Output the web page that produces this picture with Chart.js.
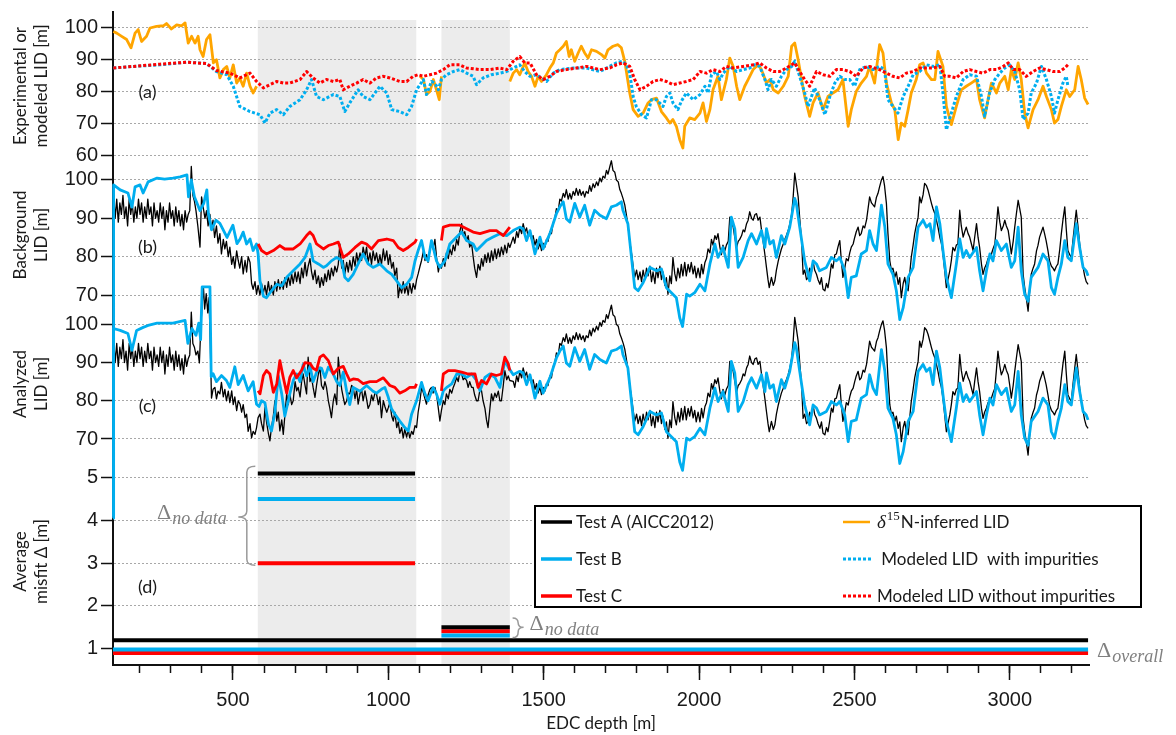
<!DOCTYPE html>
<html><head><meta charset="utf-8">
<script src="https://cdn.jsdelivr.net/npm/chart.js@4.4.1/dist/chart.umd.min.js"></script>
<style>html,body{margin:0;padding:0;background:#fff;}canvas{display:block;}</style>
</head><body>
<canvas id="c" width="1176" height="735"></canvas>
<script>
// ---------- DATA (depth [m], LID [m]) ----------
const d15nLID = [[115,98.8],[126,98.3],[142,97.3],[158,96.3],[172,93.7],[185,98.3],[195,99.4],[206,95.7],[222,97.3],[233,99.9],[254,100.4],[276,100.6],[286,101.3],[302,99.6],[319,100.9],[335,100.6],[346,101.5],[356,95.2],[367,97.3],[378,95.2],[388,97.3],[394,93.1],[404,91],[415,96.3],[426,97.8],[437,89],[447,90],[458,84.3],[469,86.9],[480,87.9],[490,84.3],[501,88.4],[512,82.7],[522,84.3],[533,81.7],[544,85.8],[555,81.7],[565,79.6],[576,81.7],
[800,null],
[1102,84.8],[1113,83.8],[1123,79.1],[1134,80.1],[1145,83.8],[1155,80.6],[1164,77.5],[1171,84.8],
[1280,null],
[1391,83.2],[1402,85.8],[1413,86.9],[1423,85.3],[1439,89],[1450,86.3],[1461,84.8],[1472,81.7],[1482,84.8],[1493,83.2],[1509,85.3],[1520,87.4],[1531,89],[1541,92.1],[1552,93.1],[1563,94.2],[1573,95.7],[1582,91],[1589,93.1],[1600,89.5],[1611,92.1],[1621,94.2],[1632,92.1],[1643,90.5],[1654,93.1],[1670,92.6],[1686,91.6],[1697,90.5],[1707,93.1],[1723,94.2],[1739,94.7],[1750,93.7],[1761,89.5],[1777,79.6],[1788,74.4],[1804,72.3],[1820,73.3],[1836,76.5],[1847,77.5],[1863,78],[1879,73.8],[1895,71.8],[1906,70.2],[1916,71.3],[1927,69.2],[1938,65],[1948,62.4],[1954,69.2],[1970,71.8],[1986,71.3],[2003,73.3],[2013,76.5],[2024,70.7],[2035,74.4],[2045,80.6],[2061,84.8],[2072,77.5],[2088,83.8],[2099,90.5],[2110,87.9],[2121,81.7],[2131,77.5],[2147,81.7],[2158,83.8],[2174,86.9],[2190,88.4],[2201,86.9],[2217,82.7],[2228,83.8],[2239,80.6],[2255,79.6],[2271,81.7],[2287,84.8],[2298,94.2],[2308,95.2],[2319,90],[2330,83.8],[2340,78.5],[2356,72.3],[2367,76.5],[2383,79.6],[2399,74.4],[2415,78.5],[2431,79.6],[2447,80.6],[2463,83.8],[2480,69.2],[2490,74.4],[2506,80.1],[2522,82.7],[2539,84.8],[2549,87.9],[2565,82.7],[2581,94.7],[2592,92.1],[2603,82.7],[2619,76.5],[2630,74.4],[2641,65],[2651,70.2],[2662,69.2],[2673,74.4],[2683,79.6],[2699,83.8],[2710,88.4],[2721,89],[2732,85.8],[2748,83.8],[2759,83.8],[2769,92.6],[2785,87.9],[2796,75.4],[2812,69.7],[2828,75.4],[2844,80.6],[2860,81.7],[2876,82.7],[2893,83.8],[2903,77.5],[2919,71.8],[2930,77.5],[2941,82.7],[2957,79.6],[2968,82.7],[2984,84.8],[2995,80.6],[3005,86.9],[3016,83.8],[3027,89],[3037,83.8],[3048,73.3],[3059,68.7],[3075,74.4],[3091,77.5],[3107,81.7],[3118,78.5],[3134,74.4],[3144,70.2],[3155,71.3],[3166,75.4],[3182,80.6],[3193,78.5],[3209,80.6],[3220,87.9],[3230,83.8],[3241,78],[3252,76]];

const modelWithImp = [[115,87.4],[179,87.9],[265,88.4],[351,89.2],[415,88.8],[447,86.3],[480,85.3],[501,81.7],[522,75.4],[555,73.8],[587,72.8],[603,70.2],[619,73.3],[641,74.4],[662,72.8],[683,75.4],[716,77.5],[737,80.6],[753,83.8],[769,78.5],[791,77.5],[823,79.1],[844,78.5],[860,73.8],[876,76.5],[903,80.6],[919,78.5],[941,77.5],[973,81.7],[995,79.6],[1011,74.4],[1037,73.8],[1059,72.8],[1075,75.4],[1091,80.6],[1113,83.8],[1123,79.1],[1139,83.2],[1150,82.7],[1161,80.6],[1171,83.8],[1187,85.3],[1209,86.3],[1230,86.9],[1252,85.8],[1273,84.8],[1284,82.2],[1305,84.3],[1332,85.3],[1359,85.8],[1381,86.3],[1402,87.4],[1423,88.4],[1439,86.3],[1456,84.8],[1477,85.3],[1509,83.2],[1531,85.8],[1552,86.9],[1595,87.4],[1638,87.4],[1681,86.3],[1702,87.4],[1734,89],[1755,89.5],[1766,88.4],[1777,85.8],[1788,78.5],[1798,75.4],[1815,72.8],[1831,71.8],[1847,77.5],[1863,77.5],[1884,75.4],[1895,78.5],[1906,79.6],[1916,76.5],[1932,74.4],[1943,77],[1959,79.6],[1981,77.5],[2003,79.1],[2019,81.7],[2029,79.6],[2040,85.3],[2056,86.3],[2067,83.8],[2078,85.8],[2099,87.9],[2121,86.3],[2142,86.9],[2163,87.4],[2179,88.4],[2195,87.9],[2212,83.8],[2222,80.6],[2233,83.8],[2249,81.7],[2265,84.8],[2281,86.9],[2298,87.9],[2308,89.5],[2324,84.8],[2340,79.6],[2351,75.4],[2362,78.5],[2372,81.2],[2388,77.5],[2405,72.8],[2421,78.5],[2437,82.7],[2453,84.8],[2469,83.8],[2485,83.8],[2501,81.7],[2517,86.9],[2539,87.9],[2560,86.9],[2581,87.9],[2597,86.9],[2608,77.5],[2624,75.4],[2640,73.3],[2657,78.5],[2673,81.7],[2689,85.3],[2710,86.3],[2732,88.4],[2753,87.9],[2775,88.4],[2785,79.6],[2796,68.1],[2812,73.3],[2828,78.5],[2850,83.8],[2871,85.3],[2893,84.8],[2909,78.5],[2919,72.3],[2935,79.6],[2952,83.8],[2968,85.8],[2984,87.4],[3000,88.4],[3016,86.3],[3032,80.6],[3043,71.3],[3059,73.3],[3069,79.6],[3086,82.7],[3102,87.9],[3118,83.8],[3134,78.5],[3144,73.3],[3155,77.5],[3171,82.7],[3182,84.8],[3187,81.7]];

const modelNoImp = [[115,87.4],[179,87.9],[265,88.6],[351,89.2],[415,88.8],[447,86.6],[490,85.8],[522,84.3],[555,85.8],[576,83.2],[598,81.2],[619,82.2],[641,83.2],[662,82.7],[683,82.7],[716,83.8],[737,86.3],[758,84.3],[780,82.7],[801,83.8],[823,83.2],[844,83.8],[855,80.6],[876,81.7],[898,82.7],[919,83.8],[941,82.7],[962,84.3],[984,84.8],[1005,84.3],[1037,83.2],[1059,83.2],[1080,84.8],[1096,85.3],[1113,84.8],[1134,85.3],[1155,85.8],[1177,86.9],[1198,88.4],[1230,88.4],[1252,87.4],[1295,86.9],[1327,86.9],[1359,87.4],[1381,86.9],[1402,89.5],[1423,91],[1439,89],[1456,89],[1477,85.3],[1498,83.8],[1520,84.8],[1541,86.3],[1573,86.9],[1605,87.4],[1638,87.9],[1681,86.9],[1713,87.4],[1734,88.4],[1755,89],[1777,87.9],[1793,83.8],[1810,80.6],[1831,81.7],[1852,83.2],[1874,83.8],[1895,83.2],[1916,82.2],[1938,82.7],[1959,83.2],[1981,83.8],[2003,86.3],[2024,85.8],[2045,86.9],[2067,86.3],[2088,87.9],[2110,87.4],[2142,87.9],[2174,88.4],[2195,89],[2217,87.4],[2239,86.3],[2260,86.3],[2281,87.4],[2308,89],[2324,86.3],[2340,83.8],[2356,81.7],[2378,86.3],[2399,85.3],[2421,84.8],[2442,86.9],[2463,86.9],[2485,86.3],[2506,84.8],[2528,87.4],[2549,87.9],[2581,86.9],[2603,85.8],[2624,84.8],[2646,84.3],[2667,85.8],[2689,86.3],[2710,87.4],[2732,87.4],[2753,87.4],[2775,87.9],[2791,84.8],[2807,84.8],[2828,84.3],[2850,86.3],[2871,86.9],[2893,86.3],[2914,85.8],[2936,86.9],[2957,86.9],[2979,87.9],[2995,89],[3011,86.9],[3032,86.9],[3053,84.8],[3075,86.3],[3096,87.4],[3118,86.9],[3139,86.3],[3161,86.3],[3177,87.4],[3187,88.4]];

// Test A (AICC2012): shared first part, panel-specific middle, shared tail
const testAEarly = [[114,88],[116,96],[121,90],[126,95],[131,89],[136,94],[141,91],[146,96],[151,90],[156,93],[161,88],[166,95],[171,91],[176,94],[181,89],[186,93],[191,90],[196,95],[201,91],[206,94],[211,89],[216,93],[221,90],[226,95],[231,91],[236,93],[241,88],[246,94],[251,90],[256,92],[261,89],[266,94],[271,90],[276,93],[281,87],[286,92],[291,89],[296,94],[301,90],[306,92],[311,88],[316,93],[321,89],[326,92],[331,88],[336,91],[341,87],[346,92],[351,89],[356,91],[361,92]];

const testABackgroundMid = [[366,103.5],[371,96],[376,94.5],[381,92],[387,88],[394,82.5],[399,95.6],[404,93],[410,90],[415,92],[420,88],[426,91],[431,87],[436,89.5],[441,85],[447,88],[452,83.5],[458,86],[463,80.7],[469,84.5],[474,82],[479,84],[485,80],[490,82.5],[496,78],[501,80],[506,77],[512,81.5],[517,79],[522,77],[528,80],[533,75.5],[539,79],[544,76],[549,80],[555,78.5],[560,73],[565,71.5],[571,73.5],[576,70.2],[581,72.5],[587,70],[592,73],[598,70.5],[603,72.5],[608,70],[614,73.5],[619,70.5],[624,72.5],[630,70],[635,73.5],[641,71],[646,74],[651,71.5],[657,73.5],[662,71.5],[667,74.5],[673,72],[678,75],[684,72.5],[689,75.5],[694,73],[700,76],[705,73.5],[710,76],[716,73],[721,77],[726,74.5],[732,78.5],[737,75],[742,77.5],[748,79.5],[753,76],[758,74],[764,76.5],[769,73],[775,75],[780,72],[785,74.5],[791,72.5],[796,75.5],[801,73.5],[807,76.5],[812,74],[817,77],[823,75],[828,77.5],[834,76],[839,78],[844,83.3],[850,77],[855,79],[860,75.5],[866,78.5],[871,76],[876,79],[882,76.5],[887,80],[893,77.5],[898,81],[903,78.5],[909,81],[914,79],[919,82.5],[925,80],[930,82.5],[935,78.5],[941,81],[946,78],[951,81.5],[957,79],[962,81],[968,78],[973,80.5],[978,78],[984,82],[989,79],[995,81.5],[1000,78],[1005,80.5],[1011,77],[1016,78.5],[1021,75],[1027,77],[1032,69.3],[1037,72],[1043,70.5],[1048,73.5],[1053,70.5],[1059,72.5],[1064,70],[1069,73],[1075,70.5],[1080,73],[1086,71.5],[1091,74],[1096,75.5],[1102,77.5],[1107,79],[1113,81.5],[1118,79],[1123,80.5],[1128,78.5],[1134,82],[1139,84],[1144,82],[1150,84.5],[1155,80],[1161,76],[1166,78],[1171,77],[1177,79.5],[1182,77.5],[1187,81],[1193,79.5],[1198,82],[1204,80.5],[1209,83],[1214,81.5],[1220,84.5],[1225,83],[1230,86.5],[1236,88.6],[1241,85.5],[1246,86.5],[1252,84],[1257,85.5],[1262,82.5],[1268,83.5],[1273,80],[1278,77],[1284,74.6],[1289,78],[1295,76.5],[1300,79.5],[1305,77.5],[1311,80.5],[1316,78.5],[1321,81],[1327,78.5],[1332,81.5],[1337,79],[1343,82],[1348,79.5],[1354,82],[1359,80],[1364,82.5],[1370,80.5],[1375,83],[1381,81],[1386,83.5],[1391,82.4]];

const testAAnalyzedMid = [[366,103.2],[371,95],[376,94],[381,92],[387,93],[392,89.9],[397,100],[402,106.4],[405,109.8],[409,104],[414,108],[419,103],[423,107],[427,95],[431,80.7],[436,83],[442,83.5],[447,80.5],[452,82.5],[458,81.8],[463,84.8],[469,81],[474,83],[479,80],[485,82.5],[490,79.5],[496,82.6],[501,79],[506,81],[512,77.4],[517,80],[523,79.1],[528,77],[533,79],[539,75.6],[544,76.5],[549,72],[555,74],[560,70.3],[565,72],[571,71.2],[576,73],[581,75.6],[587,76.5],[592,74],[598,72.1],[603,78.2],[608,74.5],[614,71.5],[619,69.5],[624,73],[630,76],[635,80],[641,74.7],[646,77],[651,72.1],[657,75],[662,71.2],[667,76],[673,81.8],[678,79],[683,81.8],[689,79],[694,80],[700,85],[705,82.6],[710,83.5],[716,81],[721,85],[726,87],[732,84],[737,81.8],[742,91.4],[748,85],[753,86.1],[758,83.5],[764,80.9],[769,84],[775,87],[780,88.8],[785,84],[791,83],[796,85],[801,83.5],[807,80],[812,78],[817,75.6],[823,80],[828,81.8],[834,79],[839,91.4],[844,87],[850,83],[855,80.9],[860,79],[866,80],[871,82],[876,81.8],[882,84],[887,83.5],[893,80.5],[898,83],[903,79.1],[909,81.8],[914,83],[919,80],[925,82.6],[930,80.5],[935,78],[941,79.1],[946,81.5],[951,80],[957,82],[962,81.8],[968,79],[973,81],[978,75.6],[984,80],[989,78.5],[995,77],[1000,78.2],[1005,79.5],[1011,76],[1016,74.7],[1021,77],[1027,73],[1032,74.5],[1037,71.5],[1043,73],[1048,70.3],[1053,72.5],[1059,70.5],[1064,72.5],[1069,70.3],[1075,72],[1080,71.2],[1086,73.5],[1091,73],[1096,77],[1102,80],[1107,83.5],[1113,82],[1118,80.5],[1123,79.1],[1128,81.5],[1134,83],[1139,83.5],[1144,82],[1150,83.5],[1155,81.8],[1161,78],[1166,74.7],[1171,77.5],[1177,80],[1182,79],[1187,81.8],[1193,80.5],[1198,83],[1204,82],[1209,83.5],[1214,84.5],[1220,86.1],[1225,85],[1230,87.5],[1236,87],[1241,85.5],[1246,86],[1252,85.3],[1257,83.5],[1262,85],[1268,83.5],[1273,83.5],[1278,81.5],[1284,80],[1289,80],[1295,83],[1300,82.6],[1305,80],[1311,78],[1316,75],[1321,73],[1327,78],[1332,81.8],[1337,80],[1343,82],[1348,80.9],[1354,82.5],[1359,80],[1364,80],[1370,84],[1375,87.9],[1381,85.5],[1386,86.5],[1391,85.3]];

const testATail = [[1402,85.1],[1407,83.5],[1413,86.5],[1418,85],[1423,87.5],[1429,86],[1434,88.6],[1440,86.5],[1445,87.5],[1450,85],[1456,86],[1461,84.5],[1466,85.5],[1472,83],[1477,84.5],[1482,82],[1488,83.5],[1493,81.6],[1498,83.5],[1504,82.5],[1509,84.5],[1514,84],[1520,86.5],[1525,86],[1531,89],[1536,90],[1541,92.5],[1547,92],[1552,95],[1557,94.5],[1563,96.5],[1568,95.5],[1573,97.5],[1579,95],[1584,96.5],[1589,95],[1595,97],[1600,96],[1605,97.8],[1611,96],[1616,97.5],[1621,96],[1627,97],[1632,95.5],[1637,97],[1643,96.5],[1648,98.5],[1653,97],[1659,99],[1664,98],[1670,99.5],[1675,98.5],[1681,100.5],[1686,99.5],[1691,101],[1697,100.5],[1702,102.5],[1707,101.5],[1713,103.5],[1718,105],[1723,102.5],[1729,102],[1734,100],[1740,99.5],[1745,97.5],[1750,96.5],[1756,95],[1761,93.5],[1766,91],[1772,87.7],[1777,84],[1783,80.7],[1788,77.5],[1793,74.6],[1799,76.5],[1804,74],[1810,76],[1815,73.5],[1820,76.5],[1826,74],[1831,77],[1836,75],[1842,77.5],[1847,73.5],[1852,76],[1858,73],[1863,77],[1868,74.5],[1874,77.5],[1879,74],[1884,76],[1890,72.5],[1895,74.5],[1900,70.2],[1906,75],[1911,73],[1916,79.8],[1922,75.5],[1927,73.7],[1932,77],[1938,74.5],[1943,78],[1948,75],[1954,78.5],[1959,75],[1965,78],[1970,76],[1975,78.5],[1981,75.5],[1986,77.5],[1991,74.5],[1997,77],[2003,74.5],[2008,78],[2013,75.5],[2019,78.5],[2024,79.5],[2029,82],[2035,81],[2040,84.5],[2045,83],[2051,85.5],[2056,84.5],[2061,86],[2067,82.5],[2072,80.5],[2077,83],[2083,81.5],[2088,83],[2094,84],[2099,90.3],[2104,89],[2110,87.7],[2115,85],[2121,82.4],[2126,84],[2131,84.5],[2137,85.5],[2142,87],[2147,86.5],[2153,88.6],[2158,89.5],[2163,91.7],[2169,90],[2174,89.5],[2180,91],[2185,91.2],[2190,89.5],[2196,90.3],[2201,87],[2206,84.2],[2212,80.5],[2217,77.2],[2222,74],[2226,71.9],[2233,74.6],[2239,72.5],[2244,73.7],[2249,76.5],[2255,78.9],[2260,80.5],[2265,82],[2271,83.3],[2276,84.5],[2281,85.5],[2287,86.8],[2292,88.5],[2298,91],[2303,95.6],[2308,101.8],[2313,99],[2319,95.6],[2324,90],[2330,84.2],[2335,75.4],[2340,76.5],[2346,74],[2351,74.6],[2356,77],[2362,76],[2367,78.9],[2372,76.5],[2378,75.4],[2383,74],[2389,72.8],[2394,74.5],[2399,71.5],[2405,71.1],[2410,73],[2415,71.9],[2421,75],[2426,78.1],[2431,77],[2437,80.5],[2442,80.7],[2447,82.5],[2453,84.2],[2458,79],[2463,74.6],[2469,77],[2474,79.5],[2480,78.9],[2485,81],[2490,82.5],[2496,83.3],[2501,85],[2506,86.5],[2512,87.7],[2517,85.5],[2522,86],[2528,88],[2533,87.5],[2539,89.5],[2544,92.5],[2549,95.6],[2555,94],[2560,93.5],[2565,93],[2571,95.5],[2576,96.5],[2581,98.2],[2587,100],[2592,100.9],[2597,98.5],[2603,93.9],[2608,86],[2614,78.9],[2619,76.5],[2624,77],[2630,74.6],[2635,76],[2641,72.8],[2646,74.5],[2651,69.3],[2657,73],[2662,74.6],[2667,72],[2673,71.1],[2678,75.5],[2683,79.8],[2689,83],[2694,86],[2699,88],[2705,90.3],[2710,95.6],[2715,94],[2721,96.1],[2726,99.1],[2732,98.5],[2737,97.4],[2743,95.5],[2748,93.9],[2753,92.5],[2759,91.2],[2764,89.5],[2769,87.7],[2775,85],[2780,83.5],[2785,80.7],[2791,76],[2796,71.9],[2801,74],[2807,76.3],[2812,79],[2817,82.4],[2823,81.5],[2828,83],[2833,83.3],[2839,92.1],[2844,88],[2850,85.1],[2855,86.5],[2860,87.7],[2866,86],[2871,85.1],[2876,83.5],[2882,81.6],[2887,85],[2893,88.6],[2898,85],[2903,82.4],[2909,78],[2914,75.4],[2919,77],[2925,78.1],[2930,79.5],[2936,80],[2941,80.7],[2946,82],[2952,83.3],[2957,88],[2962,93],[2968,89],[2973,86.8],[2979,88],[2984,89.5],[2989,88],[2995,86.8],[3000,84],[3005,80.7],[3011,84],[3016,87.7],[3021,91],[3027,94.7],[3032,92.5],[3037,90.3],[3043,75.4],[3048,72],[3053,69.3],[3059,65.8],[3064,71],[3069,75.4],[3075,77],[3080,78.1],[3086,81.5],[3091,83],[3096,85.1],[3102,86.5],[3107,87.7],[3112,86],[3117,84.2],[3123,81.5],[3128,78.9],[3134,77.5],[3139,77],[3144,76.3],[3150,77.5],[3155,78.1],[3161,82],[3166,86],[3171,89.5],[3177,93],[3182,87],[3187,81.6],[3193,80.5],[3198,79.8],[3203,84],[3209,88.5],[3214,92.1],[3220,87.5],[3225,83.3],[3230,80],[3236,77.2],[3241,75],[3246,73.5],[3252,72.8]];

// Test B
const testBBackgroundHead = [[114,11.8],[116,98.7],[137,97.4],[162,96.6],[175,92.9],[185,98.2],[201,98.7],[211,96.6],[227,99.5],[256,100.5],[280,100.2],[307,100.5],[330,100.8],[352,101.3],[357,95.6],[366,100],[376,95.6],[394,92],[406,93.9],[416,97.4],[421,91.3],[431,87],[445,89.5],[458,88.7],[481,85],[500,88.2],[513,83.4],[523,84.6],[533,86.4],[544,83.3],[555,84.6],[565,81.6],[576,83.3],[581,80.7],[587,73.7],[598,69.7],[608,69.3],[624,71.1],[641,72.8],[657,72.4],[673,74.6],[694,76.3],[716,78.1],[732,79.8],[748,83.3],[758,78.9],[775,78.1],[791,77.2],[801,77.6],[817,78.9],[834,79.8],[850,78.9],[860,74.6],[871,73.7],[887,75.4],[903,78.1],[919,80.7],[935,78.1],[951,77.2],[973,78.1],[995,76.3],[1011,75.4],[1027,73.7],[1043,71.9],[1059,72.8],[1075,74.6],[1086,78.9],[1096,81.6],[1107,84.2],[1118,79.8],[1128,78.9],[1139,84.2],[1155,78.9],[1166,77.2],[1182,78.9],[1198,83.3],[1220,85.1],[1236,86.4],[1252,84.2],[1273,83.3],[1284,81.6],[1316,84.2],[1337,85.1],[1359,86],[1381,85.5]];

const testBAnalyzedHead = [[114,49.7],[116,98.9],[137,98.4],[162,97.6],[175,93.2],[190,98.4],[211,99.2],[227,99.7],[256,100.3],[307,100.3],[346,101],[355,95],[368,98.9],[381,97.1],[390,100.3],[396,96],[401,109.8],[426,109.8],[430,86.3],[436,87.1],[447,85],[463,86.6],[479,85.3],[490,83.5],[506,88.9],[517,84.2],[533,86.6],[549,82.6],[565,85],[576,79.1],[584,78.5],[592,80],[603,79.5],[614,74],[624,72.1],[635,77],[646,86.5],[657,81.8],[667,76],[683,81.8],[694,85.3],[705,87],[716,85],[726,89.5],[737,86.5],[748,89],[758,85],[774,88.5],[785,88.5],[796,86.1],[807,88.8],[823,87],[834,85],[844,84],[855,87.5],[866,82.5],[876,79],[887,83.5],[909,82.5],[930,84],[951,82.5],[962,82],[978,83],[989,83.5],[1000,80.9],[1010,78],[1021,76.5],[1037,74.7],[1053,73],[1064,72.1],[1075,76.5],[1091,80],[1107,84.8],[1118,81.8],[1128,80],[1144,83.5],[1155,81.8],[1166,79.1],[1177,82.6],[1188,83.5],[1204,84.4],[1220,87],[1236,87],[1252,86.1],[1268,87],[1284,85.3],[1295,82.6],[1311,86.1],[1327,87],[1343,86.1],[1359,83.5],[1375,90.5],[1386,88.8]];

const testBTail = [[1402,86.8],[1423,87.7],[1434,87.3],[1445,84.2],[1456,86.8],[1472,80.7],[1488,85.1],[1498,82],[1520,86],[1541,91.2],[1552,93],[1563,94.3],[1573,89.9],[1584,89],[1600,93.9],[1616,90.3],[1632,93.4],[1648,88.2],[1664,92.1],[1681,90.8],[1702,89.9],[1718,93],[1734,93.4],[1750,94.3],[1755,92.1],[1771,88.6],[1793,71.9],[1804,71.1],[1820,73.2],[1842,77.2],[1863,76.3],[1879,76.8],[1895,71.9],[1911,70.6],[1927,69.3],[1938,64],[1947,61.8],[1960,70.2],[1970,69.7],[1986,70.6],[2003,72.8],[2019,71.1],[2035,78.1],[2051,83.3],[2061,79.8],[2077,82.4],[2094,77.2],[2104,90.3],[2115,87.3],[2126,77.2],[2142,79.8],[2158,84.2],[2169,86],[2185,83.3],[2201,86.8],[2212,82.4],[2217,87.3],[2228,83.3],[2239,84.2],[2249,79.8],[2265,85.5],[2276,83.3],[2292,87.7],[2308,95.2],[2313,93.9],[2324,87.7],[2340,78.9],[2356,73.7],[2367,78.9],[2378,78.1],[2388,76.3],[2410,77.2],[2426,79.8],[2442,78.9],[2453,79.8],[2469,76.3],[2480,69.3],[2490,74.6],[2506,75],[2522,80.7],[2539,81.6],[2549,86.8],[2560,83.3],[2571,81.6],[2587,93.4],[2598,87.7],[2608,78.1],[2624,75.4],[2635,71.1],[2646,63.6],[2657,66.7],[2673,74.6],[2689,77.2],[2705,87.7],[2721,89.5],[2732,87.7],[2743,88.6],[2753,84.2],[2764,93],[2775,88.6],[2785,81.6],[2796,74.6],[2812,69.3],[2828,78.1],[2839,84.6],[2850,79.8],[2860,81.6],[2871,79.8],[2893,82.4],[2903,76.3],[2914,71.1],[2925,76.3],[2936,80.7],[2946,78.9],[2957,84.2],[2973,81.6],[2989,83.3],[3005,77.2],[3016,78.9],[3027,87.7],[3037,76.3],[3048,70.2],[3059,68.4],[3069,74.6],[3091,77.2],[3107,80.7],[3123,78.9],[3134,71.9],[3144,70.2],[3155,74.6],[3166,78.1],[3177,84.2],[3187,79.8],[3198,78.9],[3214,88.6],[3225,82.4],[3236,77.2],[3246,76.3],[3252,75]];

// Test C (only in the no-data intervals)
const testCBackground = [[581,83.3],[592,81.6],[608,80.7],[630,81.6],[651,82.9],[667,82],[694,82],[716,83.3],[737,85.5],[748,86.4],[758,85.5],[769,83.3],[791,82],[807,82.9],[823,83.3],[839,83.8],[855,79.8],[871,80.7],[893,82.4],[914,83.8],[930,83.3],[946,82],[968,84.2],[995,84.6],[1016,84.2],[1032,82.4],[1048,81.6],[1064,82.4],[1086,83.8],[1091,84.6],[1130,null],[1171,84.2],[1177,87.7],[1198,88.2],[1230,88.2],[1252,87.3],[1273,86.4],[1295,86],[1327,86.8],[1348,86.8],[1370,85.5],[1391,87.7]];

const testCAnalyzed = [[581,82.6],[587,81.8],[598,86.6],[608,87.9],[619,87],[630,82.2],[641,84.4],[651,90.5],[662,86.1],[673,82],[683,86.1],[694,87.9],[705,86],[721,88],[732,90],[748,89.8],[758,88.5],[769,88],[780,91.4],[791,92],[807,90.5],[823,87],[839,88.5],[855,89],[866,87],[876,85.3],[887,85.7],[903,85.5],[919,84.5],[941,85],[962,85],[984,86],[1005,84],[1021,83.5],[1037,82],[1053,82.6],[1069,83.5],[1086,83.5],[1091,84.4],[1130,null],[1171,82.6],[1177,87],[1193,87.9],[1214,87.9],[1236,87.5],[1257,87],[1279,87],[1289,83.5],[1300,85.3],[1316,84.4],[1332,87],[1348,86.6],[1364,87],[1375,91.4],[1386,89.7],[1391,87.9]];

// Panel (d): average misfit for tests A, B, C
const misfitOverall = [1.2, 0.98, 0.9];
const misfitNoData1 = [5.1, 4.5, 3.0];
const misfitNoData2 = [1.5, 1.31, 1.41];
const overallDepths = [114, 3252];
const noData1Depths = [580, 1086];
const noData2Depths = [1171, 1391];
const noDataBands = [[580, 1090], [1171, 1391]];
const depthRange = [114, 3255];
const depthLabelStep = 500;
const depthMinorStep = 100;

// ---------- CHART ----------
const COL = {A: '#000000', B: '#00AEEF', C: '#FF0000', N: '#FFA500'};
const P = arr => arr.map(p => ({x: p[0], y: p[1]}));
const datasets = [];
function addLine(data, yAxisID, color, width, dash, order) {
  datasets.push({data: P(data), xAxisID: 'x', yAxisID, borderColor: color, backgroundColor: color,
    borderWidth: width, borderDash: dash || [], pointRadius: 0, fill: false, tension: 0,
    spanGaps: false, order, clip: false, borderJoinStyle: 'round'});
}
// (a)
addLine(d15nLID, 'ya', COL.N, 2.8, null, 3);
addLine(modelWithImp, 'ya', COL.B, 3, [3, 2], 2);
addLine(modelNoImp, 'ya', COL.C, 3, [3, 2], 1);
// (b)
addLine(testAEarly.concat(testABackgroundMid, testATail), 'yb', COL.A, 1.3, null, 3);
addLine(testBBackgroundHead.concat(testBTail), 'yb', COL.B, 2.8, null, 2);
addLine(testCBackground, 'yb', COL.C, 2.8, null, 1);
// (c)
addLine(testAEarly.concat(testAAnalyzedMid, testATail), 'yc', COL.A, 1.3, null, 3);
addLine(testBAnalyzedHead.concat(testBTail), 'yc', COL.B, 2.8, null, 2);
addLine(testCAnalyzed, 'yc', COL.C, 2.8, null, 1);
// (d)
const dCols = [COL.A, COL.B, COL.C];
for (let i = 0; i < 3; i++) {
  addLine([[overallDepths[0], misfitOverall[i]], [overallDepths[1], misfitOverall[i]]], 'yd', dCols[i], 4, null, 1);
  addLine([[noData1Depths[0], misfitNoData1[i]], [noData1Depths[1], misfitNoData1[i]]], 'yd', dCols[i], 4, null, 1);
  addLine([[noData2Depths[0], misfitNoData2[i]], [noData2Depths[1], misfitNoData2[i]]], 'yd', dCols[i], 4, null, 1);
}

const tickFont = {family: 'Liberation Sans, Arial, sans-serif', size: 20};
const titleFont = {family: 'Lato, sans-serif', size: 17, lineHeight: 1.25};
function yAxis(min, max, step, weight, stackWeight, title) {
  return {
    type: 'linear', position: 'left', stack: 'panels', stackWeight, weight, min, max,
    afterFit: s => { s.width = 113; s.paddingTop = 0; s.paddingBottom = 0; },
    ticks: {stepSize: step, includeBounds: false, autoSkip: false, font: tickFont, color: '#1a1a1a', padding: 3},
    grid: {color: '#a8a8a8', lineWidth: 1, tickColor: '#111', tickLength: 12, tickWidth: 1.5},
    border: {display: true, color: '#111', width: 2, dash: [2, 2]},
    title: {display: true, text: title, font: titleFont, color: '#1a1a1a', padding: {top: 10, bottom: 0}}
  };
}

function brace(ctx, x, y1, y2, ym, w, dir) {
  const h = x + dir * w / 2, t = x + dir * w, r = Math.min(6, (y2 - y1) / 4);
  ctx.beginPath();
  ctx.moveTo(x, y1);
  ctx.quadraticCurveTo(h, y1, h, y1 + r);
  ctx.lineTo(h, ym - r);
  ctx.quadraticCurveTo(h, ym, t, ym);
  ctx.quadraticCurveTo(h, ym, h, ym + r);
  ctx.lineTo(h, y2 - r);
  ctx.quadraticCurveTo(h, y2, x, y2);
  ctx.stroke();
}
function deltaLabel(ctx, x, y, sub) {
  ctx.fillStyle = '#808080';
  ctx.textAlign = 'left'; ctx.textBaseline = 'alphabetic';
  ctx.font = '22px "Liberation Serif", serif';
  ctx.fillText('\u0394', x, y);
  const w = ctx.measureText('\u0394').width;
  ctx.font = 'italic 18px "Liberation Serif", serif';
  ctx.fillText(sub, x + w + 1, y + 5);
}

const decor = {
  id: 'decor',
  beforeDraw(chart) {
    const {ctx, chartArea: ca, scales: {x}} = chart;
    ctx.save();
    ctx.fillStyle = '#ececec';
    for (const [a, b] of noDataBands) {
      const x1 = x.getPixelForValue(a), x2 = x.getPixelForValue(b);
      ctx.fillRect(x1, ca.top + 8, x2 - x1, ca.bottom - ca.top - 8);
    }
    ctx.restore();
  },
  afterDraw(chart) {
    const {ctx, scales: {x, ya, yb, yc, yd}} = chart;
    ctx.save();
    // panel labels
    ctx.fillStyle = '#1a1a1a';
    ctx.font = '18px Lato, sans-serif';
    ctx.textAlign = 'center'; ctx.textBaseline = 'middle';
    const lx = x.getPixelForValue(225);
    ctx.fillText('(a)', lx, ya.getPixelForValue(80));
    ctx.fillText('(b)', lx, yb.getPixelForValue(82.5));
    ctx.fillText('(c)', lx, yc.getPixelForValue(78.5));
    ctx.fillText('(d)', lx, yd.getPixelForValue(2.45));
    // braces & delta labels
    ctx.strokeStyle = '#999'; ctx.lineWidth = 1.5;
    const b1x = x.getPixelForValue(572);
    brace(ctx, b1x, yd.getPixelForValue(5.27), yd.getPixelForValue(2.95), yd.getPixelForValue(4.08), 17, -1);
    deltaLabel(ctx, 157, yd.getPixelForValue(4.08) + 2, 'no data');
    const b2x = x.getPixelForValue(1400);
    brace(ctx, b2x, yd.getPixelForValue(1.72), yd.getPixelForValue(1.26), yd.getPixelForValue(1.5), 11, 1);
    deltaLabel(ctx, b2x + 17, yd.getPixelForValue(1.5) + 3, 'no data');
    deltaLabel(ctx, x.right + 8, yd.getPixelForValue(0.98) + 7, 'overall');
    // legend
    const L = 535, T = 506, W = 606, H = 101;
    ctx.fillStyle = '#fff'; ctx.fillRect(L, T, W, H);
    ctx.strokeStyle = '#000'; ctx.lineWidth = 2; ctx.strokeRect(L, T, W, H);
    const rows = [T + 16, T + 53, T + 90];
    const left = [['Test A (AICC2012)', COL.A], ['Test B', COL.B], ['Test C', COL.C]];
    ctx.textBaseline = 'middle'; ctx.textAlign = 'left';
    left.forEach(([t, c], i) => {
      ctx.strokeStyle = c; ctx.lineWidth = 3.5; ctx.setLineDash([]);
      ctx.beginPath(); ctx.moveTo(L + 6, rows[i]); ctx.lineTo(L + 37, rows[i]); ctx.stroke();
      ctx.fillStyle = '#1a1a1a'; ctx.font = '17px Lato, sans-serif';
      ctx.fillText(t, L + 41, rows[i] + 1);
    });
    const rx = 843;
    ctx.strokeStyle = COL.N; ctx.lineWidth = 2.5; ctx.setLineDash([]);
    ctx.beginPath(); ctx.moveTo(rx, rows[0]); ctx.lineTo(rx + 27, rows[0]); ctx.stroke();
    ctx.fillStyle = '#1a1a1a';
    ctx.font = 'italic 19px "Liberation Serif", serif';
    let tx = rx + 34;
    ctx.fillText('\u03B4', tx, rows[0] + 1); tx += ctx.measureText('\u03B4').width + 1;
    ctx.font = '13px "Liberation Serif", serif';
    ctx.fillText('15', tx, rows[0] - 5); tx += ctx.measureText('15').width + 1;
    ctx.font = '17px Lato, sans-serif';
    ctx.fillText('N-inferred LID', tx, rows[0] + 1);
    [[COL.B, ' Modeled LID  with impurities'], [COL.C, 'Modeled LID without impurities']].forEach(([c, t], i) => {
      ctx.strokeStyle = c; ctx.lineWidth = 3; ctx.setLineDash([3, 2]);
      ctx.beginPath(); ctx.moveTo(rx, rows[i + 1]); ctx.lineTo(rx + 28, rows[i + 1]); ctx.stroke();
      ctx.setLineDash([]);
      ctx.fillStyle = '#1a1a1a'; ctx.font = '17px Lato, sans-serif';
      ctx.fillText(t, rx + 34, rows[i + 1] + 1);
    });
    ctx.restore();
  }
};

const isMajor = v => Math.abs(v % depthLabelStep) < 1e-6;

new Chart(document.getElementById('c'), {
  type: 'line',
  data: {datasets},
  options: {
    responsive: false, animation: false, events: [],
    layout: {padding: {top: 12, right: 87, left: 0, bottom: 0}},
    plugins: {legend: {display: false}, tooltip: {enabled: false}},
    scales: {
      x: {type: 'linear', position: 'bottom', min: depthRange[0], max: depthRange[1], weight: 1,
        afterFit: s => { s.height = 70; s.paddingLeft = 0; s.paddingRight = 0; },
        ticks: {stepSize: depthMinorStep, includeBounds: false, autoSkip: false, maxRotation: 0,
          font: tickFont, color: '#1a1a1a', padding: 8,
          callback: v => isMajor(v) ? String(v) : ''},
        grid: {drawOnChartArea: false, tickLength: 15, tickWidth: 1.5,
          tickColor: ctx => (ctx.tick && isMajor(ctx.tick.value)) ? '#111' : 'rgba(0,0,0,0)'},
        border: {color: '#111', width: 2},
        title: {display: true, text: 'EDC depth [m]', font: titleFont, color: '#1a1a1a', padding: {top: 0, bottom: 1}}},
      x2: {type: 'linear', position: 'bottom', min: depthRange[0], max: depthRange[1], weight: 0,
        afterFit: s => { s.height = 0; s.paddingLeft = 0; s.paddingRight = 0; },
        ticks: {stepSize: depthMinorStep, includeBounds: false, display: false},
        grid: {drawOnChartArea: false, tickColor: '#111', tickLength: 8, tickWidth: 1.5},
        border: {display: false}},
      ya: yAxis(58.66, 104.9, 10, 4, 148, ['Experimental or', 'modeled LID [m]']),
      yb: yAxis(66.09, 105.2, 10, 3, 150, ['Background', 'LID [m]']),
      yc: yAxis(65.03, 103.74, 10, 2, 148, ['Analyzed', 'LID [m]']),
      yd: yAxis(0.619, 5.461, 1, 1, 207, ['Average', 'misfit \u0394 [m]'])
    }
  },
  plugins: [decor]
});
</script>
</body></html>
